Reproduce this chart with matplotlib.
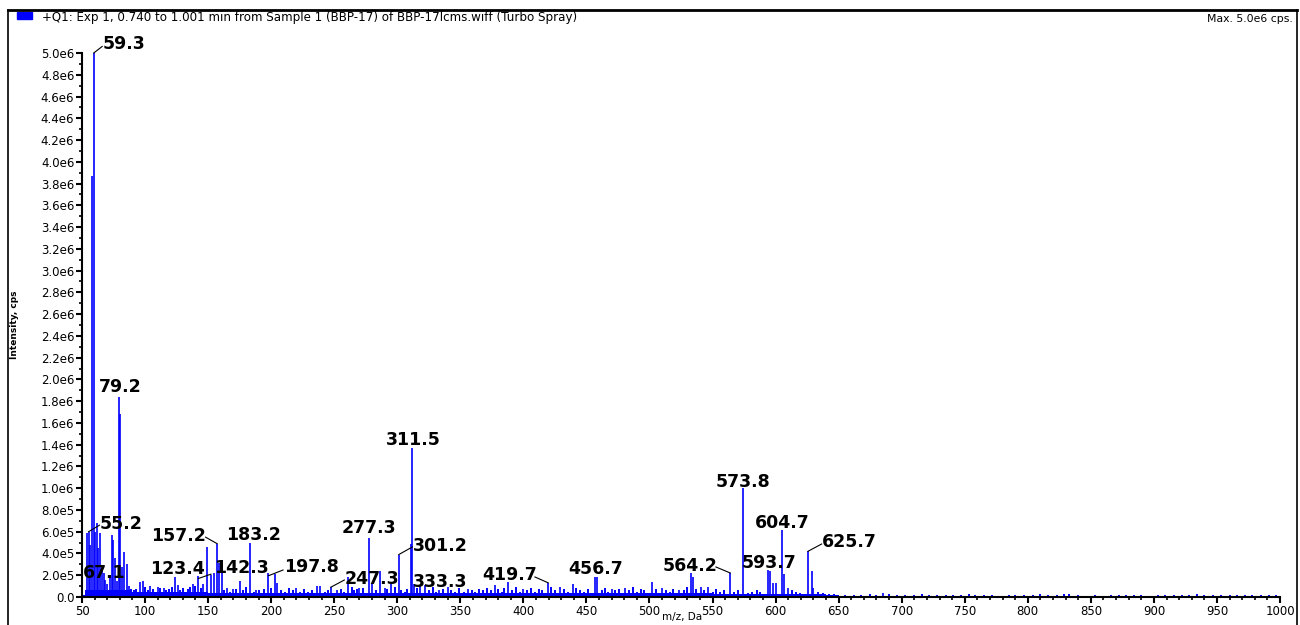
import matplotlib
matplotlib.use("Agg")
import matplotlib.pyplot as plt
from matplotlib.ticker import MultipleLocator, FuncFormatter
from matplotlib.patches import Rectangle
from matplotlib.lines import Line2D

plt.rcParams['font.family'] = ['DejaVu Sans']

# --- espectro: picos principales (m/z, cps) ---
peak_mz = [54.0, 55.2, 56.5, 58.2, 59.3, 60.5, 61.6, 63.0, 64.3, 66.0, 67.1, 68.2,
           70.0, 72.0, 73.5, 74.8, 76.2, 77.5, 79.2, 80.3, 81.5, 83.3, 85.4, 87.0,
           96.0, 98.6, 104.0, 110.0, 115.0, 123.4, 126.0, 138.0, 142.3, 146.0,
           149.5, 152.0, 155.0, 157.2, 159.0, 161.0, 165.0, 170.0, 175.5, 183.2,
           188.0, 197.8, 203.0, 205.0, 220.0, 236.0, 239.0, 247.3, 252.0, 261.0,
           270.0, 277.3, 280.0, 286.5, 290.0, 295.0, 301.2, 310.5, 311.5, 313.0,
           318.0, 322.0, 333.3, 340.0, 356.0, 377.5, 388.0, 400.0, 419.7, 429.0,
           439.0, 456.7, 458.5, 470.0, 480.6, 501.8, 509.7, 523.7, 533.0, 534.5,
           540.6, 546.7, 564.2, 573.8, 593.7, 595.5, 598.0, 600.5, 604.7, 606.7,
           610.0, 621.5, 625.7, 628.6, 630.0, 685.0]
peak_int = [5.9e5, 6.0e5, 4.8e5, 3.87e6, 5.0e6, 6.0e5, 6.8e5, 4.5e5, 5.9e5, 2.5e5, 2.2e5, 1.6e5,
            1.2e5, 2.0e5, 5.7e5, 5.2e5, 3.6e5, 1.5e5, 1.84e6, 1.68e6, 2.8e5, 4.1e5, 3.0e5, 1.0e5,
            1.4e5, 1.5e5, 1.0e5, 9e4, 8e4, 1.8e5, 1.1e5, 1.2e5, 1.9e5, 1.2e5,
            4.6e5, 2.0e5, 2.2e5, 4.9e5, 3.1e5, 3.1e5, 8e4, 7e4, 1.5e5, 5.0e5,
            6e4, 2.2e5, 2.1e5, 1.3e5, 8e4, 1.0e5, 1.0e5, 9e4, 6e4, 1.8e5,
            8e4, 5.4e5, 1.2e5, 2.4e5, 8e4, 1.2e5, 3.9e5, 4.9e5, 1.37e6, 1.2e5,
            1.0e5, 1.1e5, 6e4, 9e4, 7e4, 1.1e5, 1.4e5, 7e4, 1.3e5, 9e4,
            1.2e5, 1.8e5, 1.8e5, 7e4, 8e4, 1.4e5, 8e4, 6e4, 2.2e5, 1.8e5,
            9e4, 9e4, 2.2e5, 1.0e6, 2.5e5, 2.4e5, 1.3e5, 1.3e5, 6.2e5, 2.1e5,
            8e4, 3e4, 4.2e5, 2.4e5, 8e4, 3.5e4]

# --- ruido de fondo ---
noise_mz = [89, 91, 93, 94.5, 100, 102, 106, 108, 112, 117, 119, 121, 128, 130, 132, 134,
            136, 140, 144, 163, 167, 172, 178, 180, 186, 190, 192, 194, 200, 208, 211, 214,
            217, 223, 226, 229, 232, 243, 245, 250, 255, 258, 264, 266, 268, 273, 283, 292,
            298, 303, 306, 308, 316, 325, 328, 331, 336, 343, 346, 349, 353, 359, 362, 365,
            368, 371, 374, 380, 383, 385, 391, 394, 397, 403, 406, 409, 412, 415, 422, 425,
            432, 435, 442, 445, 448, 451, 462, 465, 467, 473, 476, 484, 487, 490, 493, 496,
            505, 513, 516, 519, 527, 530, 537, 543, 550, 553, 556, 559, 567, 570, 578, 581,
            585, 588, 613, 616, 619, 634, 638, 642, 646,
            655, 662, 668, 675, 680, 690, 696, 703, 710, 716, 722, 728, 735, 741, 747, 753,
            758, 765, 772, 778, 785, 790, 797, 804, 810, 816, 823, 829, 833, 840, 846, 853,
            859, 866, 872, 878, 884, 890, 897, 903, 909, 916, 922, 928, 934, 940, 947, 953,
            960, 966, 972, 978, 985, 991, 997]
noise_int = [7e4, 6e4, 7e4, 5e4, 9e4, 6e4, 7e4, 5e4, 8e4, 6e4, 7e4, 9e4, 6e4, 8e4, 5e4, 7e4,
             9e4, 1.0e5, 8e4, 6e4, 5e4, 7e4, 6e4, 9e4, 5e4, 6e4, 4e4, 7e4, 8e4, 6e4, 5e4, 8e4,
             6e4, 5e4, 7e4, 5e4, 6e4, 5e4, 6e4, 4e4, 7e4, 5e4, 9e4, 6e4, 7e4, 8e4, 6e4, 7e4,
             9e4, 6e4, 5e4, 7e4, 8e4, 6e4, 9e4, 5e4, 7e4, 6e4, 5e4, 8e4, 5e4, 6e4, 5e4, 7e4,
             6e4, 8e4, 6e4, 7e4, 5e4, 8e4, 6e4, 9e4, 5e4, 6e4, 8e4, 5e4, 7e4, 6e4, 9e4, 6e4,
             7e4, 5e4, 8e4, 6e4, 5e4, 7e4, 6e4, 8e4, 5e4, 6e4, 7e4, 6e4, 9e4, 5e4, 7e4, 6e4,
             7e4, 6e4, 5e4, 7e4, 6e4, 9e4, 7e4, 6e4, 5e4, 7e4, 5e4, 6e4, 5e4, 6e4, 4e4, 5e4,
             6e4, 5e4, 6e4, 5e4, 4e4, 5e4, 4e4, 3e4, 3e4,
             2e4, 1.5e4, 2e4, 2.5e4, 2e4, 2.5e4, 1.5e4, 2e4, 1.5e4, 2.5e4, 2e4, 1.5e4, 2e4, 1.5e4, 2e4, 2.5e4,
             1.5e4, 2e4, 1.5e4, 1e4, 2e4, 1.5e4, 2e4, 1.5e4, 2.5e4, 1.5e4, 2e4, 3e4, 2.5e4, 1.5e4, 1e4, 1.5e4,
             1e4, 2e4, 2e4, 1.5e4, 2e4, 1.5e4, 1e4, 1.5e4, 2e4, 2e4, 1.5e4, 2e4, 2.5e4, 2e4, 1.5e4, 1.5e4,
             2e4, 1.5e4, 1.5e4, 2e4, 2e4, 1.5e4, 1.5e4]

# nivel de la banda de base
band_mz = [50, 52, 90, 150, 250, 350, 450, 550, 640, 650, 1000]
band_int = [1.5e4, 6e4, 4.5e4, 4e4, 3.5e4, 3.5e4, 3.5e4, 3e4, 2e4, 1.2e4, 1.2e4]

# etiquetas de picos
label_text = ["59.3", "79.2", "55.2", "67.1", "157.2", "123.4", "142.3", "183.2",
              "197.8", "247.3", "277.3", "311.5", "301.2", "333.3", "419.7", "456.7",
              "564.2", "573.8", "593.7", "604.7", "625.7"]
label_peak = [59.3, 79.2, 55.2, 67.1, 157.2, 123.4, 142.3, 183.2,
              197.8, 247.3, 277.3, 311.5, 301.2, 333.3, 419.7, 456.7,
              564.2, 573.8, 593.7, 604.7, 625.7]
label_peak_int = [5.0e6, 1.84e6, 6.0e5, 2.2e5, 4.9e5, 1.8e5, 1.7e5, 5.0e5,
                  1.95e5, 9e4, 5.4e5, 1.37e6, 3.9e5, 6e4, 1.3e5, 1.8e5,
                  2.2e5, 1.0e6, 2.5e5, 6.2e5, 4.2e5]

# posicion (x izq., y centro) de cada etiqueta y si lleva linea guia
label_layout = {
    "59.3": (66.5, 5.08e6, (66.0, 5.06e6)),
    "79.2": (63.5, 1.93e6, None),
    "55.2": (64.3, 6.75e5, (63.8, 6.6e5)),
    "67.1": (50.8, 2.2e5, None),
    "157.2": (104.7, 5.6e5, (148.0, 5.5e5)),
    "123.4": (103.9, 2.57e5, None),
    "142.3": (154.7, 2.67e5, (152.3, 2.1e5)),
    "183.2": (164.2, 5.7e5, None),
    "197.8": (210.2, 2.76e5, (209.4, 2.48e5)),
    "247.3": (258.5, 1.65e5, (258.0, 1.56e5)),
    "277.3": (256.2, 6.35e5, None),
    "311.5": (291.1, 1.443e6, None),
    "301.2": (312.5, 4.69e5, (312.0, 4.6e5)),
    "333.3": (312.5, 1.38e5, None),
    "419.7": (367.2, 2.02e5, (409.2, 1.84e5)),
    "456.7": (435.4, 2.57e5, None),
    "564.2": (510.7, 2.85e5, (552.7, 2.76e5)),
    "573.8": (552.7, 1.057e6, None),
    "593.7": (573.3, 3.13e5, None),
    "604.7": (583.7, 6.8e5, None),
    "625.7": (636.8, 5.06e5, (636.5, 4.87e5)),
}

azul = '#0000ff'

fig = plt.figure(figsize=(13, 6.25), dpi=100)
ax = fig.add_axes([82 / 1300, 28 / 625, 1198 / 1300, 544 / 625])

ax.fill_between(band_mz, 0, band_int, step='post', color=azul, lw=0)
ax.vlines(noise_mz, 0, noise_int, color=azul, lw=1.4)
ax.vlines(peak_mz, 0, peak_int, color=azul, lw=1.2)

ax.set_xlim(50, 1000)
ax.set_ylim(0, 5.0e6)

for txt, mz, inten in zip(label_text, label_peak, label_peak_int):
    tx, ty, guia = label_layout[txt]
    ax.text(tx, ty, txt, ha='left', va='center', fontsize=12.5,
            fontweight='bold', color='black', clip_on=False)
    if guia is not None:
        ax.plot([mz, guia[0]], [inten, guia[1]], color='black', lw=0.8,
                clip_on=False)

ax.spines['top'].set_visible(False)
ax.spines['right'].set_visible(False)
ax.spines['left'].set_linewidth(1.5)
ax.spines['bottom'].set_linewidth(1.5)

ax.xaxis.set_major_locator(MultipleLocator(50))
ax.xaxis.set_minor_locator(MultipleLocator(10))
ax.yaxis.set_major_locator(MultipleLocator(2e5))
ax.yaxis.set_minor_locator(MultipleLocator(1e5))


def fmt_y(v, pos):
    if v == 0:
        return "0.0"
    if v < 1e6 - 1:
        return "%.1fe5" % (v / 1e5)
    return "%.1fe6" % (v / 1e6)


ax.yaxis.set_major_formatter(FuncFormatter(fmt_y))
ax.tick_params(axis='both', which='major', length=4, width=1.5, labelsize=8.5, pad=1.5)
ax.tick_params(axis='both', which='minor', length=2, width=1.2)

ax.set_ylabel("Intensity, cps", fontsize=6.5, fontweight='bold', labelpad=16)
fig.text(682 / 1300, 1 - 617 / 625, "m/z, Da", fontsize=7.5, ha='center', va='center')

# encabezado
fig.patches.append(Rectangle((17 / 1300, 1 - 19 / 625), 15 / 1300, 7 / 625,
                             transform=fig.transFigure, color=azul))
fig.text(42 / 1300, 1 - 18 / 625,
         "+Q1: Exp 1, 0.740 to 1.001 min from Sample 1 (BBP-17) of BBP-17lcms.wiff (Turbo Spray)",
         fontsize=8.6, va='center', ha='left')
fig.text(1293 / 1300, 1 - 19 / 625, "Max. 5.0e6 cps.", fontsize=7.8, va='center', ha='right')

# marco exterior
fig.lines.append(Line2D([8 / 1300, 1297 / 1300], [1 - 10 / 625, 1 - 10 / 625],
                        transform=fig.transFigure, color='black', lw=2))
fig.lines.append(Line2D([8 / 1300, 8 / 1300], [0, 1 - 10 / 625],
                        transform=fig.transFigure, color='black', lw=1.2))
fig.lines.append(Line2D([1297 / 1300, 1297 / 1300], [0, 1 - 10 / 625],
                        transform=fig.transFigure, color='black', lw=1.2))

fig.savefig("out.png", dpi=100)
plt.close(fig)
